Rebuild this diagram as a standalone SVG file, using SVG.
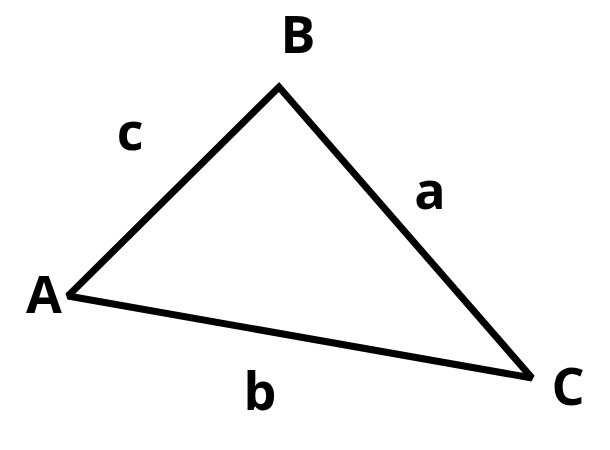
<svg xmlns="http://www.w3.org/2000/svg" width="610" height="450" viewBox="0 0 610 450">
  <style>
    .lbl { font-family: "Open Sans", "Liberation Sans", sans-serif; font-weight: bold; font-size: 52px; fill: #000; text-anchor: middle; }
    .edge { fill: none; stroke: #000; stroke-width: 7; stroke-linejoin: miter; stroke-miterlimit: 2; }
  </style>
  <rect width="610" height="450" fill="#fff"/>
  <g id="connectors">
    <polygon class="edge" points="68,296 279,87 532,378"/>
  </g>
  <g id="node-A"><text class="lbl" x="44" y="313">A</text></g>
  <g id="node-B"><text class="lbl" x="298" y="53">B</text></g>
  <g id="node-C"><text class="lbl" x="568" y="405">C</text></g>
  <g id="label-a"><text class="lbl" x="430" y="209">a</text></g>
  <g id="label-b"><text class="lbl" x="260" y="410">b</text></g>
  <g id="label-c"><text class="lbl" x="130" y="150">c</text></g>
</svg>
